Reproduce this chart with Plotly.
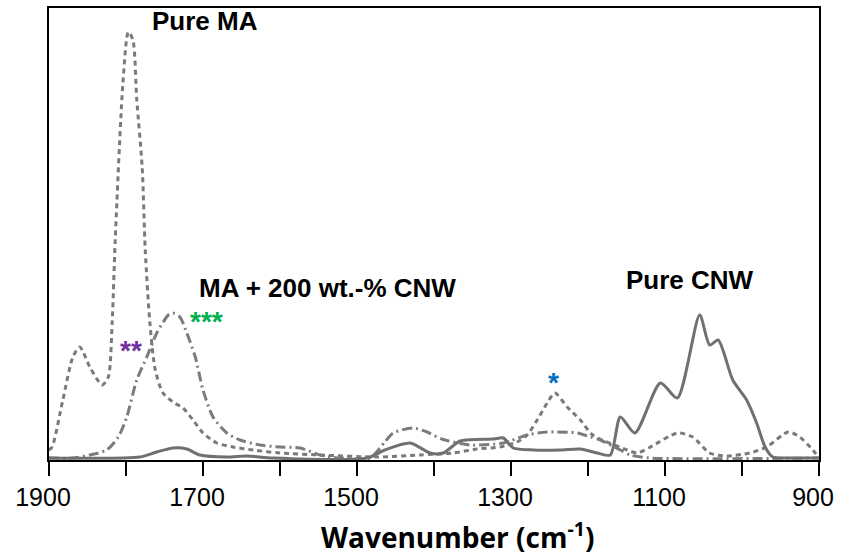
import plotly.graph_objects as go

# Wavenumber (cm^-1) and absorbance (a.u.)
ma_wn = [1900, 1896, 1882, 1869, 1860, 1847, 1831, 1823, 1818, 1814, 1804, 1797, 1791, 1786, 1779,
         1775, 1769, 1762, 1752, 1739, 1726, 1713, 1700, 1682, 1661, 1635, 1600, 1548, 1474, 1418,
         1375, 1344, 1314, 1292, 1279, 1266, 1253, 1243, 1227, 1210, 1194, 1149, 1136, 1119, 1084,
         1064, 1042, 1020, 990, 968, 940, 925, 908, 901]
ma_abs = [0.10, 0.13, 0.60, 1.03, 1.13, 0.93, 0.75, 0.83, 1.37, 2.20, 3.77, 4.28, 4.20, 3.60, 2.93,
          2.10, 1.37, 0.90, 0.67, 0.58, 0.52, 0.40, 0.27, 0.17, 0.13, 0.10, 0.07, 0.05, 0.03, 0.05,
          0.07, 0.11, 0.13, 0.18, 0.25, 0.40, 0.57, 0.67, 0.53, 0.40, 0.25, 0.10, 0.07, 0.13, 0.27,
          0.23, 0.07, 0.04, 0.07, 0.13, 0.28, 0.23, 0.10, 0.03]

mix_wn = [1900, 1869, 1847, 1825, 1810, 1799, 1786, 1773, 1760, 1745, 1739, 1730, 1721, 1710, 1700,
          1687, 1669, 1652, 1626, 1600, 1574, 1548, 1522, 1483, 1464, 1453, 1427, 1409, 1390, 1353,
          1310, 1279, 1253, 1214, 1197, 1184, 1158, 1145, 1119, 900]
mix_abs = [0.02, 0.02, 0.05, 0.10, 0.23, 0.43, 0.80, 1.03, 1.27, 1.45, 1.47, 1.43, 1.27, 1.03, 0.70,
           0.43, 0.27, 0.20, 0.15, 0.13, 0.12, 0.05, 0.02, 0.02, 0.18, 0.27, 0.32, 0.28, 0.21, 0.15,
           0.17, 0.25, 0.28, 0.27, 0.23, 0.20, 0.10, 0.05, 0.02, 0.02]

cnw_wn = [1900, 1782, 1760, 1739, 1721, 1704, 1669, 1643, 1609, 1487, 1464, 1431, 1405, 1388, 1366,
          1323, 1310, 1297, 1271, 1236, 1210, 1188, 1171, 1158, 1139, 1106, 1084, 1055, 1042, 1031,
          1012, 994, 981, 970, 960, 942, 900]
cnw_abs = [0.02, 0.03, 0.08, 0.12, 0.11, 0.05, 0.03, 0.04, 0.02, 0.02, 0.10, 0.17, 0.07, 0.07, 0.19,
           0.21, 0.22, 0.12, 0.10, 0.10, 0.11, 0.07, 0.05, 0.43, 0.27, 0.77, 0.62, 1.45, 1.15, 1.20,
           0.80, 0.60, 0.37, 0.13, 0.03, 0.02, 0.02]

tick_vals = [1900, 1800, 1700, 1600, 1500, 1400, 1300, 1200, 1100, 1000, 900]
tick_text = ["1900", "", "1700", "", "1500", "", "1300", "", "1100", "", "900"]

labels = ["Pure MA", "MA + 200 wt.-% CNW", "Pure CNW"]
label_x = [1697, 1538, 1068]
label_y = [4.39, 1.72, 1.80]

stars = ["**", "***", "*"]
star_x = [1793, 1696, 1245]
star_y = [1.13, 1.42, 0.81]
star_colors = ["#7030A0", "#00B050", "#0070C0"]

fig = go.Figure()
fig.add_trace(go.Scatter(x=ma_wn, y=ma_abs, mode="lines", name="Pure MA",
                         line=dict(color="#7a7a7a", width=3, dash="5px,4px", shape="spline", smoothing=0.7)))
fig.add_trace(go.Scatter(x=mix_wn, y=mix_abs, mode="lines", name="MA + 200 wt.-% CNW",
                         line=dict(color="#7c7c7c", width=3, dash="10px,4px,2px,4px", shape="spline", smoothing=0.7)))
fig.add_trace(go.Scatter(x=cnw_wn, y=cnw_abs, mode="lines", name="Pure CNW",
                         line=dict(color="#707070", width=3, shape="spline", smoothing=0.7)))

for t, x, y in zip(labels, label_x, label_y):
    fig.add_annotation(x=x, y=y, text="<b>%s</b>" % t, showarrow=False, xanchor="center", yanchor="middle",
                       font=dict(family="Liberation Sans, Arial, sans-serif", size=26, color="black"))
for t, x, y, c in zip(stars, star_x, star_y, star_colors):
    fig.add_annotation(x=x, y=y, text="<b>%s</b>" % t, showarrow=False, xanchor="center", yanchor="middle",
                       yshift=-3, font=dict(family="Liberation Sans, Arial, sans-serif", size=28, color=c))

fig.add_annotation(xref="paper", yref="paper", x=0.531, y=-0.166, text="<b>Wavenumber (cm<sup>-1</sup>)</b>",
                   showarrow=False, xanchor="center", yanchor="middle",
                   font=dict(family="Open Sans, sans-serif", size=28, color="black"))

fig.update_layout(
    width=847, height=558,
    margin=dict(l=49, r=28, t=8, b=98),
    paper_bgcolor="white", plot_bgcolor="white",
    showlegend=False,
    xaxis=dict(range=[1900, 900], tickmode="array", tickvals=tick_vals, ticktext=tick_text,
               ticks="outside", ticklen=14, tickwidth=2, tickcolor="black", ticklabelshift=6,
               automargin=False,
               showline=True, linecolor="black", linewidth=2, mirror=True, showgrid=False, zeroline=False,
               tickfont=dict(family="Liberation Sans, Arial, sans-serif", size=25, color="black")),
    yaxis=dict(range=[0, 4.52], showticklabels=False, ticks="", showline=True, linecolor="black",
               linewidth=2, mirror=True, showgrid=False, zeroline=False, automargin=False),
)

fig.write_html("out.html", config={"displayModeBar": False},
               post_script="document.body.style.margin='0';document.body.style.padding='0';")
